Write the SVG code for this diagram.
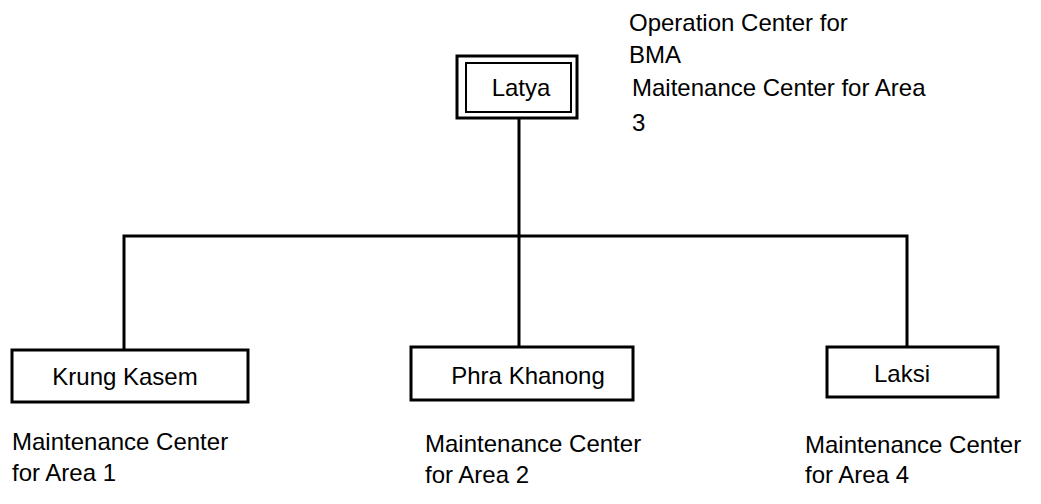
<svg xmlns="http://www.w3.org/2000/svg" width="1041" height="504" viewBox="0 0 1041 504">
<style>
.box{fill:#fff;stroke:#000;stroke-width:3}
.inner{fill:none;stroke:#000;stroke-width:2}
.lbl{font-family:"Liberation Sans",Arial,sans-serif;font-size:24px;fill:#000}
.mid{text-anchor:middle}
.conn{fill:none;stroke:#000;stroke-width:3}
</style>
<rect width="1041" height="504" fill="#fff"/>
<g id="connectors">
<line class="conn" x1="519" y1="118" x2="519" y2="347"/>
<polyline class="conn" points="124,350 124,236 907,236 907,347"/>
</g>
<g id="latya">
<rect class="box" x="457" y="56" width="120" height="62"/>
<rect class="inner" x="466" y="63" width="105" height="49"/>
<text class="lbl mid" x="521" y="96">Latya</text>
</g>
<g id="latya-note">
<text class="lbl" x="629" y="31">Operation Center for</text>
<text class="lbl" x="629" y="63">BMA</text>
<text class="lbl" x="632" y="96">Maitenance Center for Area</text>
<text class="lbl" x="632" y="131">3</text>
</g>
<g id="krung-kasem">
<rect class="box" x="12" y="350" width="236" height="52"/>
<text class="lbl mid" x="125" y="385">Krung Kasem</text>
<text class="lbl" x="12" y="450">Maintenance Center</text>
<text class="lbl" x="12" y="481">for Area 1</text>
</g>
<g id="phra-khanong">
<rect class="box" x="411" y="347" width="222" height="53"/>
<text class="lbl mid" x="528" y="384">Phra Khanong</text>
<text class="lbl" x="425" y="452">Maintenance Center</text>
<text class="lbl" x="425" y="483">for Area 2</text>
</g>
<g id="laksi">
<rect class="box" x="827" y="347" width="171" height="50"/>
<text class="lbl mid" x="902" y="382">Laksi</text>
<text class="lbl" x="805" y="453">Maintenance Center</text>
<text class="lbl" x="805" y="483">for Area 4</text>
</g>
</svg>
